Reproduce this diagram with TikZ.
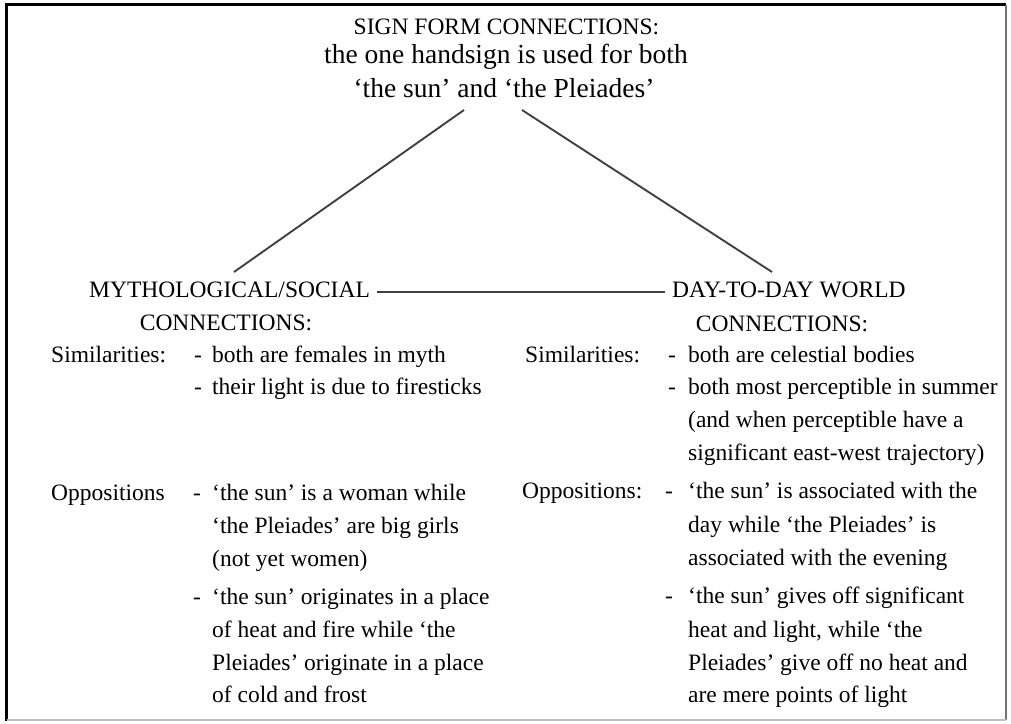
\documentclass[tikz,border=0pt]{standalone}
\usepackage{fontspec}
\setmainfont{Liberation Serif}
\begin{document}
\begin{tikzpicture}[x=1pt,y=-1pt,
  txt/.style={inner sep=0pt, anchor=base west, font=\fontsize{23.5}{33}\selectfont},
  ctr/.style={inner sep=0pt, anchor=base, font=\fontsize{23.5}{33}\selectfont},
  big/.style={inner sep=0pt, anchor=base, font=\fontsize{27.5}{34}\selectfont},
  link/.style={draw=black!75, line width=1.9pt}]
\useasboundingbox (0,0) rectangle (1011,723);
% frame
\draw[line width=3.5pt] (6.5,721) -- (6.5,4.5) -- (1006,4.5);
\draw[line width=1.8pt, black!55] (1006,4.5) -- (1006,720);
\draw[line width=1.8pt, black!25] (6.5,720) -- (1006,720);
% title
\node[ctr] (t1) at (506.5,34) {SIGN FORM CONNECTIONS:};
\node[big] (t2) at (506,63) {the one handsign is used for both};
\node[big] (t3) at (504,97) {‘the sun’ and ‘the Pleiades’};
% headings
\node[txt] (m1) at (89,297) {MYTHOLOGICAL/SOCIAL};
\node[ctr] (m2) at (226,330) {CONNECTIONS:};
\node[txt] (d1) at (672,297) {DAY-TO-DAY WORLD};
\node[ctr] (d2) at (782,331) {CONNECTIONS:};
% connectors
\coordinate (tL) at (464,110);
\coordinate (tR) at (522,110);
\coordinate (mT) at (234,272);
\coordinate (dT) at (772,272);
\coordinate (mE) at (377,292);
\coordinate (dW) at (665,292);
\draw[link] (tL) -- (mT);
\draw[link] (tR) -- (dT);
\draw[link] (mE) -- (dW);
% left column
\node[txt] (ls) at (51,362) {Similarities:};
\node[txt] (lsd1) at (194,362) {-};
\node[txt] (ls1) at (212,362) {both are females in myth};
\node[txt] (lsd2) at (194,394) {-};
\node[txt] (ls2) at (212,394) {their light is due to firesticks};
\node[txt] (lo) at (51,500) {Oppositions};
\node[txt] (lod1) at (193,500) {-};
\foreach \y/\t [count=\i] in {500/{‘the sun’ is a woman while},533/{‘the Pleiades’ are big girls},566/{(not yet women)}}
  \node[txt] (loa\i) at (212,\y) {\t};
\node[txt] (lod2) at (193,604) {-};
\foreach \y/\t [count=\i] in {604/{‘the sun’ originates in a place},637/{of heat and fire while ‘the},670/{Pleiades’ originate in a place},702/{of cold and frost}}
  \node[txt] (lob\i) at (212,\y) {\t};
% right column
\node[txt] (rs) at (525,362) {Similarities:};
\node[txt] (rsd1) at (668,362) {-};
\node[txt] (rs1) at (688,362) {both are celestial bodies};
\node[txt] (rsd2) at (668,394) {-};
\foreach \y/\t [count=\i] in {394/{both most perceptible in summer},427/{(and when perceptible have a},460/{significant east-west trajectory)}}
  \node[txt] (rsb\i) at (688,\y) {\t};
\node[txt] (ro) at (522,498) {Oppositions:};
\node[txt] (rod1) at (665,498) {-};
\foreach \y/\t [count=\i] in {498/{‘the sun’ is associated with the},532/{day while ‘the Pleiades’ is},565/{associated with the evening}}
  \node[txt] (roa\i) at (688,\y) {\t};
\node[txt] (rod2) at (665,603) {-};
\foreach \y/\t [count=\i] in {603/{‘the sun’ gives off significant},637/{heat and light, while ‘the},670/{Pleiades’ give off no heat and},702/{are mere points of light}}
  \node[txt] (rob\i) at (688,\y) {\t};
\end{tikzpicture}
\end{document}
